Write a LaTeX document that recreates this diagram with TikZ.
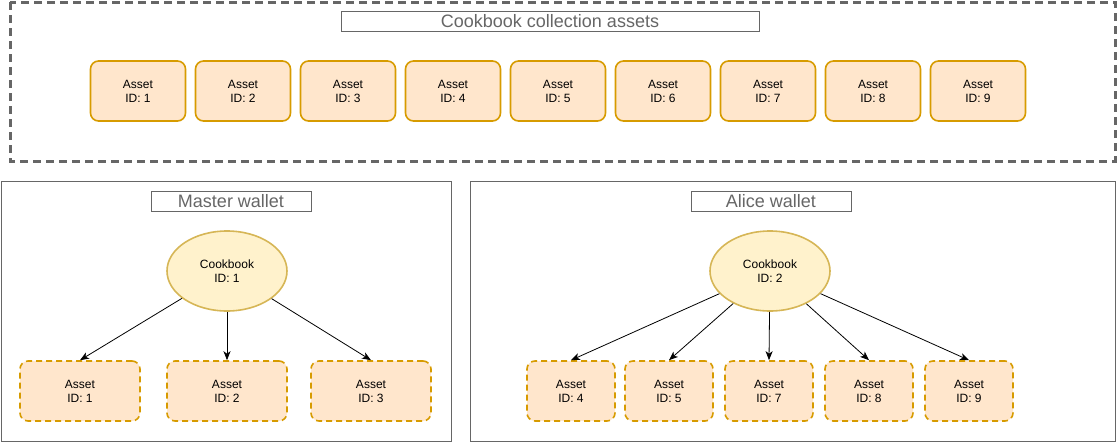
\documentclass[tikz,border=0pt]{standalone}
\usepackage{fontspec}
\setmainfont{Liberation Sans}
\usetikzlibrary{arrows.meta,shapes.geometric}

\definecolor{AssetFill}{HTML}{FFE6CC}
\definecolor{AssetDraw}{HTML}{D79B00}
\definecolor{CookbookFill}{HTML}{FFF2CC}
\definecolor{CookbookDraw}{HTML}{D6B656}
\colorlet{FrameGray}{black!60}

\tikzset{
  asset/.style={draw=AssetDraw, fill=AssetFill, line width=1.6pt, rounded corners=8pt,
    minimum width=95pt, minimum height=60pt, inner sep=0pt, align=center,
    font=\fontsize{12}{14}\selectfont},
  ownedasset/.style={asset, dash pattern=on 6pt off 4pt, minimum width=120pt},
  cookbook/.style={ellipse, draw=CookbookDraw, fill=CookbookFill, line width=1.6pt,
    minimum width=120pt, minimum height=80pt, inner sep=0pt, align=center,
    font=\fontsize{12}{14}\selectfont},
  frametitle/.style={draw=FrameGray, text=FrameGray, line width=1pt, minimum height=20pt,
    inner sep=0pt, font=\fontsize{18}{20}\selectfont},
  link/.style={-{Stealth[length=9pt,width=7pt,inset=2.5pt]}, line width=0.8pt},
}

\begin{document}
\begin{tikzpicture}[x=1pt, y=-1pt]

\useasboundingbox (0, 0) rectangle (1117, 442);

% Coleccion
\draw[FrameGray, line width=3pt, dash pattern=on 8pt off 5pt] (10, 2) rectangle (1115, 161);
\node[frametitle, minimum width=418pt] (colltitle) at (550, 21) {Cookbook collection assets};
\foreach \i in {1,...,9}
  \node[asset] (coll\i) at ({138+105*(\i-1)}, 91) {Asset\\ID: \i};

% Billeteras
\draw[FrameGray, line width=1pt] (1, 181) rectangle (451, 441);
\draw[FrameGray, line width=1pt] (470, 181) rectangle (1115, 441);
\node[frametitle, minimum width=160pt] (mastertitle) at (231, 201) {Master wallet};
\node[frametitle, minimum width=160pt] (alicetitle) at (771, 201) {Alice wallet};

\node[cookbook] (ck1) at (227, 271) {Cookbook\\ID: 1};
\node[cookbook] (ck2) at (770, 271) {Cookbook\\ID: 2};

\node[ownedasset] (m1) at (80, 391) {Asset\\ID: 1};
\node[ownedasset] (m2) at (227, 391) {Asset\\ID: 2};
\node[ownedasset] (m3) at (371, 391) {Asset\\ID: 3};

\node[ownedasset, minimum width=88pt] (a4) at (571, 391) {Asset\\ID: 4};
\node[ownedasset, minimum width=88pt] (a5) at (669, 391) {Asset\\ID: 5};
\node[ownedasset, minimum width=88pt] (a7) at (769, 391) {Asset\\ID: 7};
\node[ownedasset, minimum width=88pt] (a8) at (869, 391) {Asset\\ID: 8};
\node[ownedasset, minimum width=88pt] (a9) at (969, 391) {Asset\\ID: 9};

\draw[link] (ck1) -- (m1.north);
\draw[link] (ck1) -- (m2.north);
\draw[link] (ck1) -- (m3.north);

\draw[link] (ck2) -- (a4.north);
\draw[link] (ck2) -- (a5.north);
\draw[link] (ck2) -- (a7.north);
\draw[link] (ck2) -- (a8.north);
\draw[link] (ck2) -- (a9.north);

\end{tikzpicture}
\end{document}
